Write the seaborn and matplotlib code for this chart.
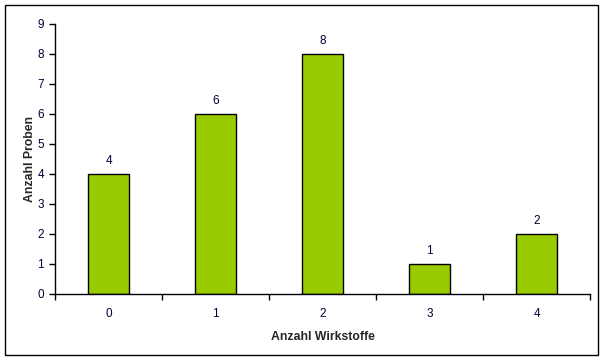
import matplotlib
matplotlib.use("Agg")
import matplotlib.pyplot as plt
import matplotlib.patches as patches
import seaborn as sns
import pandas as pd

categories = ["0", "1", "2", "3", "4"]
values = [4, 6, 8, 1, 2]
yticks = list(range(0, 10))

sns.set_style("white")
plt.rcParams['font.family'] = ['Liberation Sans', 'DejaVu Sans']

df = pd.DataFrame({"Anzahl Wirkstoffe": categories, "Anzahl Proben": values})

fig = plt.figure(figsize=(6.06, 3.62), dpi=100)
ax = fig.add_axes([55/606, 68/362, 535/606, 270/362])

sns.barplot(data=df, x="Anzahl Wirkstoffe", y="Anzahl Proben", ax=ax,
            color="#99CC00", width=0.38, edgecolor="black", linewidth=1,
            saturation=1)

for c in ax.containers:
    ax.bar_label(c, labels=[str(v) for v in values], padding=5,
                 fontsize=8.5, color="#000033")

ax.set_xlim(-0.5, 4.5)
ax.set_ylim(0, 9)
ax.set_yticks(yticks)
ax.set_yticklabels([str(t) for t in yticks])
ax.set_xticks(range(len(categories)))
ax.set_xticklabels(categories)
ax.set_xticks([i - 0.5 for i in range(len(categories) + 1)], minor=True)
ax.tick_params(axis="x", which="major", bottom=True, length=0, pad=10, labelsize=8.5)
ax.tick_params(axis="x", which="minor", bottom=True, length=4, width=1, direction="out", color="black")
ax.tick_params(axis="y", which="major", left=True, length=4, width=1, direction="out", labelsize=8.5, pad=4, color="black")
ax.tick_params(labelcolor="#000033")

for s in ["top", "right"]:
    ax.spines[s].set_visible(False)
for s in ["left", "bottom"]:
    ax.spines[s].set_color("black")
    ax.spines[s].set_linewidth(1)

ax.set_xlabel("Anzahl Wirkstoffe", fontsize=8.8, fontweight="bold", labelpad=8)
ax.set_ylabel("Anzahl Proben", fontsize=8.8, fontweight="bold", labelpad=1)

fig.add_artist(patches.Rectangle((5/606, 7/362), 593/606, 350/362,
                                 transform=fig.transFigure, fill=False,
                                 edgecolor="black", linewidth=1))

fig.savefig("out.png", dpi=100)
